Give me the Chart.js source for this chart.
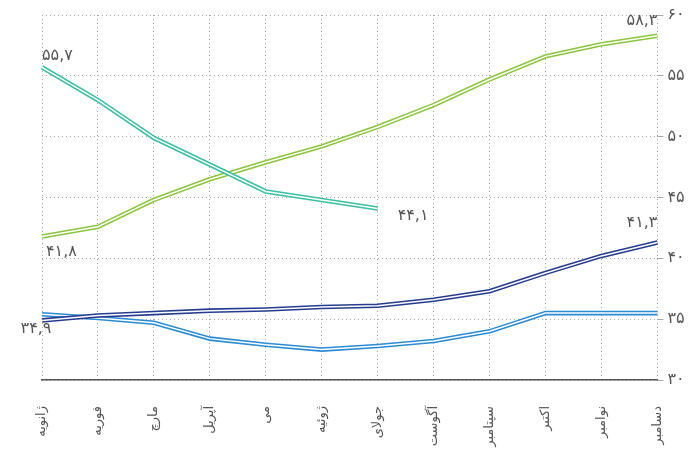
<!DOCTYPE html>
<html>
<head>
<meta charset="utf-8">
<script src="https://cdn.jsdelivr.net/npm/chart.js@4/dist/chart.umd.min.js"></script>
<style>
  html, body { margin: 0; padding: 0; background: #fff; }
  #wrap { width: 699px; height: 458px; }
</style>
</head>
<body>
<div id="wrap"><canvas id="chart"></canvas></div>
<script>
// ماه‌ها
const months = ['ژانویه', 'فوریه', 'مارچ', 'آپریل', 'می', 'ژوئیه', 'جولای', 'آگوست', 'سپتامبر', 'اکتبر', 'نوامبر', 'دسامبر'];

// مقادیر سری‌ها
const tealValues  = [55.7, 53.0, 49.9, 47.7, 45.5, 44.8, 44.1, null, null, null, null, null];
const greenValues = [41.8, 42.6, 44.8, 46.5, 47.9, 49.2, 50.8, 52.6, 54.7, 56.6, 57.6, 58.3];
const navyValues  = [34.9, 35.3, 35.5, 35.7, 35.8, 36.0, 36.1, 36.6, 37.3, 38.8, 40.2, 41.3];
const blueValues  = [35.4, 35.1, 34.7, 33.4, 32.9, 32.5, 32.8, 33.2, 34.0, 35.5, 35.5, 35.5];

const yTicks = [30, 35, 40, 45, 50, 55, 60];

const faDigits = '۰۱۲۳۴۵۶۷۸۹';
const toFa = (v) => String(v).replace('.', ',').replace(/\d/g, d => faDigits[d]);

const series = [
  { data: tealValues,  color: '#3dbfa3' },
  { data: greenValues, color: '#8cc63f' },
  { data: navyValues,  color: '#273c8e' },
  { data: blueValues,  color: '#2b8bd3' }
];

// هر سری = خط رنگی ضخیم + خط سفید نازک روی آن
const datasets = [];
series.forEach((s, k) => {
  datasets.push({ data: s.data, borderColor: s.color, borderWidth: 4.6, order: 2 * k + 1, pointRadius: 0, spanGaps: false });
  datasets.push({ data: s.data, borderColor: '#ffffff', borderWidth: 1.5, order: 2 * k, pointRadius: 0, spanGaps: false });
});

// برچسب مقادیر ابتدا و انتها
const valueLabels = [
  { ds: 0, i: 0,  align: 'left',   dx: 0,   dy: -11 },
  { ds: 0, i: 6,  align: 'left',   dx: 20,  dy: 7 },
  { ds: 2, i: 0,  align: 'left',   dx: 4,   dy: 15 },
  { ds: 2, i: 11, align: 'right',  dx: 0,   dy: -15 },
  { ds: 4, i: 0,  align: 'center', dx: -6,  dy: 8 },
  { ds: 4, i: 11, align: 'right',  dx: 0,   dy: -20 }
];

const labelPlugin = {
  id: 'valueLabels',
  afterDatasetsDraw(chart) {
    const ctx = chart.ctx;
    ctx.save();
    ctx.font = '16px "DejaVu Sans"';
    ctx.fillStyle = '#555';
    ctx.textBaseline = 'middle';
    valueLabels.forEach(l => {
      const pt = chart.getDatasetMeta(l.ds).data[l.i];
      const v = chart.data.datasets[l.ds].data[l.i];
      ctx.textAlign = l.align;
      ctx.fillText(toFa(v.toFixed(1)), pt.x + l.dx, pt.y + l.dy);
    });
    ctx.restore();
  }
};

new Chart(document.getElementById('chart'), {
  type: 'line',
  data: { labels: months, datasets: datasets },
  options: {
    responsive: true,
    maintainAspectRatio: false,
    animation: false,
    layout: { padding: { left: 42, top: 15, right: 0, bottom: 0 } },
    plugins: { legend: { display: false }, tooltip: { enabled: false } },
    scales: {
      x: {
        grid: { color: '#a8a8a8', drawTicks: false },
        border: { display: true, color: '#555', width: 1.5, dash: [1, 3] },
        ticks: {
          color: '#555', font: { family: 'DejaVu Sans', size: 13 },
          minRotation: 90, maxRotation: 90, padding: 26
        },
        afterFit(scale) { scale.height = 78; }
      },
      y: {
        position: 'right',
        min: 30, max: 60,
        afterBuildTicks(scale) { scale.ticks = yTicks.map(v => ({ value: v })); },
        grid: { color: '#a8a8a8', tickLength: 6 },
        border: { display: false, dash: [1, 3] },
        ticks: {
          color: '#555', font: { family: 'DejaVu Sans', size: 16 }, padding: 4,
          callback: (v) => toFa(v)
        },
        afterFit(scale) { scale.width = 37; }
      }
    }
  },
  plugins: [labelPlugin]
});
</script>
</body>
</html>
